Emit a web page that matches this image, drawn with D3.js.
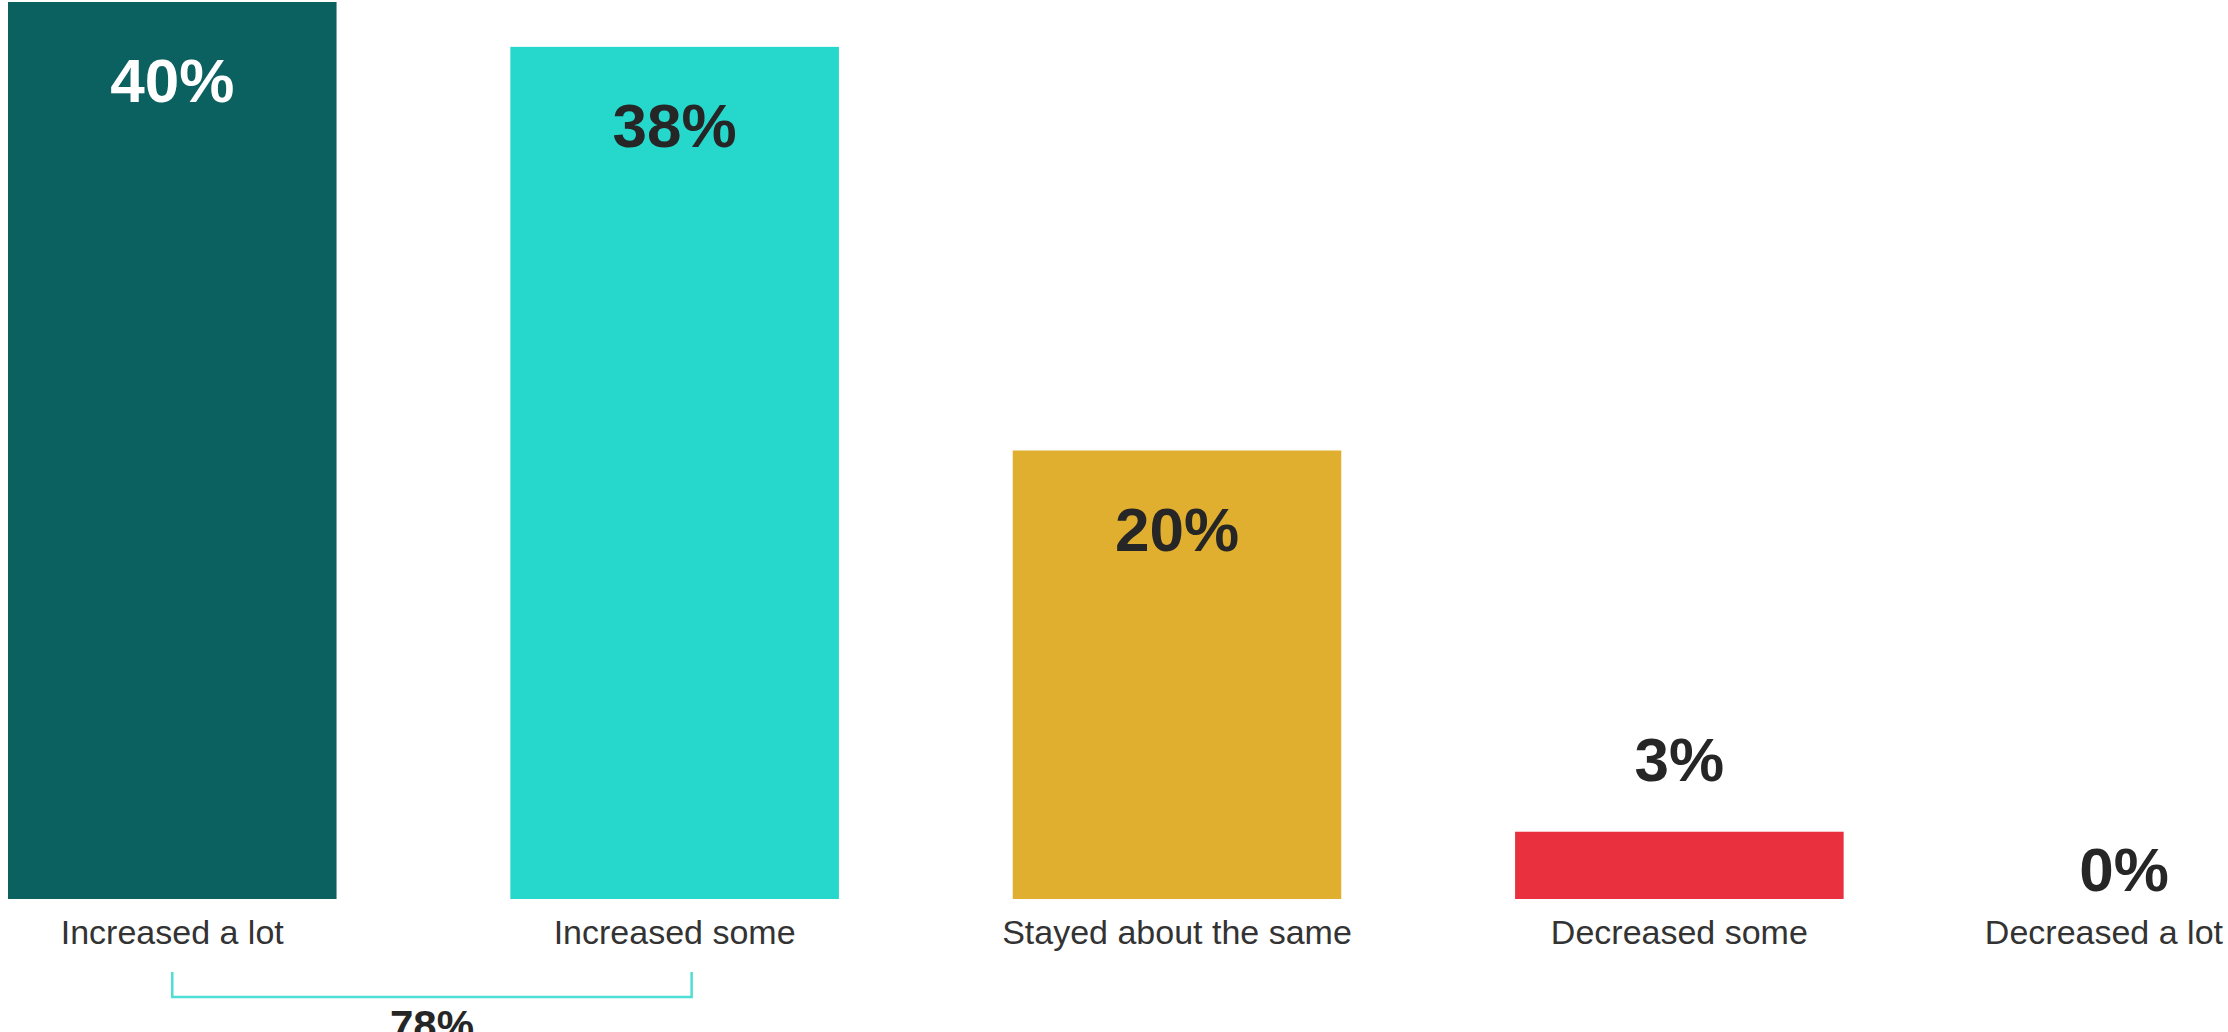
<!DOCTYPE html>
<html>
<head>
<meta charset="utf-8">
<script src="https://cdn.jsdelivr.net/npm/d3@7"></script>
<style>
  html, body { margin: 0; padding: 0; background: #ffffff; overflow: hidden; }
  svg { display: block; }
  text { font-family: "Liberation Sans", Arial, sans-serif; }
</style>
</head>
<body>
<svg id="chart"></svg>
<script>
// ---- data ----
const categories = ["Increased a lot", "Increased some", "Stayed about the same", "Decreased some", "Decreased a lot"];
const values = [40, 38, 20, 3, 0];
const barColors = ["#0b6060", "#26d7cc", "#e0af30", "#e8303e", "#888888"];
const labelColors = ["#ffffff", "#262626", "#262626", "#262626", "#262626"];
const bracketGroup = [0, 1]; // categories combined by the bracket

// ---- layout ----
const W = 2228, H = 1032;
const svg = d3.select("#chart").attr("width", W).attr("height", H);

const x = d3.scaleBand()
  .domain(categories)
  .range([8, 2346])
  .paddingInner(0.346)
  .paddingOuter(0);

const y = d3.scaleLinear()
  .domain([0, 40])
  .range([899, 2]);

const bw = x.bandwidth();

// bars
svg.append("g").selectAll("rect")
  .data(categories)
  .join("rect")
  .attr("x", d => x(d))
  .attr("y", (d, i) => y(values[i]))
  .attr("width", bw)
  .attr("height", (d, i) => y(0) - y(values[i]))
  .attr("fill", (d, i) => barColors[i]);

// value labels
svg.append("g").selectAll("text")
  .data(categories)
  .join("text")
  .attr("x", d => Math.min(x(d) + bw / 2, W - 104))
  .attr("y", (d, i) => {
    const v = values[i];
    if (v >= 10) return y(v) + 100;
    if (v > 0) return y(v) - 51;
    return y(0) - 8;
  })
  .attr("text-anchor", "middle")
  .attr("font-size", 62)
  .attr("font-weight", "bold")
  .attr("fill", (d, i) => labelColors[i])
  .text((d, i) => values[i] + "%");

// category labels
svg.append("g").selectAll("text")
  .data(categories)
  .join("text")
  .attr("y", 944)
  .attr("text-anchor", "middle")
  .attr("font-size", 34)
  .attr("fill", "#333333")
  .text(d => d)
  .each(function(d) {
    const tw = this.getComputedTextLength();
    const cx = Math.min(x(d) + bw / 2, W - 5 - tw / 2);
    d3.select(this).attr("x", cx);
  });

// bracket
const bx0 = x(categories[bracketGroup[0]]) + bw / 2;
const bx1 = x(categories[bracketGroup[1]]) + bw / 2 + 17;
const bTop = 972, bBot = 997;
svg.append("path")
  .attr("d", `M${bx0},${bTop} V${bBot} H${bx1} V${bTop}`)
  .attr("fill", "none")
  .attr("stroke", "#4fded4")
  .attr("stroke-width", 2.5);

const total = d3.sum(bracketGroup, i => values[i]);
svg.append("text")
  .attr("x", (bx0 + bx1) / 2)
  .attr("y", 1040)
  .attr("text-anchor", "middle")
  .attr("font-size", 42)
  .attr("font-weight", "bold")
  .attr("fill", "#262626")
  .text(total + "%");
</script>
</body>
</html>
